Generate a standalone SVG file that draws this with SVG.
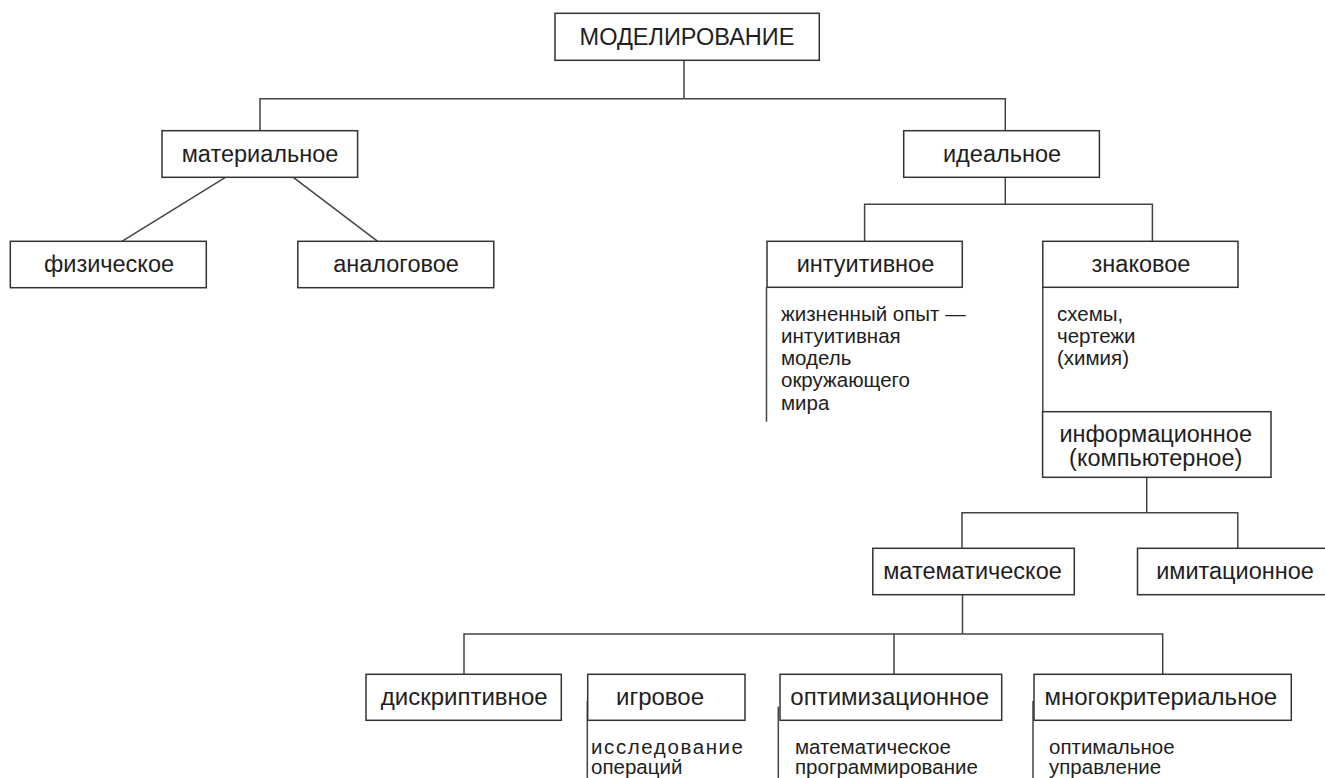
<svg xmlns="http://www.w3.org/2000/svg" width="1325" height="778" viewBox="0 0 1325 778">
<style>
.box{fill:#fff;stroke:#333;stroke-width:1.5}
.lbl{font-family:"Liberation Sans",Arial,sans-serif;font-size:23.5px;fill:#1e1e1e;text-anchor:middle}
.lbl2{font-family:"Liberation Sans",Arial,sans-serif;font-size:24px;fill:#1e1e1e;text-anchor:middle}
.desc{font-family:"Liberation Sans",Arial,sans-serif;font-size:20.5px;fill:#1e1e1e}
.con{fill:none;stroke:#444;stroke-width:1.5}
</style>
<rect width="1325" height="778" fill="#fff"/>
<g id="connectors" class="con">
<path d="M684,60.3V98.7M260,130.7V98.7H1005.3V130.7"/>
<path d="M225.4,177.3L121.9,241.3M293.3,177.3L377.7,241.3"/>
<path d="M1005.3,177.3V204.3M864.6,241.3V204.3H1152.4V241.3"/>
<path d="M766.5,287.3V421.7M1042.8,287.3V411.7"/>
<path d="M1146.7,477.3V512.7M962,548.3V512.7H1237.8V548.3"/>
<path d="M962.5,594.7V634M464,674.3V634H1162.7V674.3M894,634V674.3"/>
<path d="M587.3,701V778M778.3,706.7V778M1033,701V778"/>
</g>
<g id="n-root"><rect class="box" x="555" y="13.3" width="264.3" height="47"/><text class="lbl" x="687" y="45" font-size="23">МОДЕЛИРОВАНИЕ</text></g>
<g id="n-material"><rect class="box" x="162" y="130.7" width="195.6" height="46.6"/><text class="lbl" x="260" y="161.7">материальное</text></g>
<g id="n-ideal"><rect class="box" x="903.7" y="130.7" width="195.7" height="46.6"/><text class="lbl" x="1002" y="161.7">идеальное</text></g>
<g id="n-phys"><rect class="box" x="10.3" y="241.3" width="196" height="46.4"/><text class="lbl" x="109" y="271.7">физическое</text></g>
<g id="n-analog"><rect class="box" x="297.8" y="241.3" width="196" height="46.4"/><text class="lbl" x="396" y="271.7">аналоговое</text></g>
<g id="n-intuit"><rect class="box" x="767" y="241.3" width="195.3" height="46"/><text class="lbl" x="865.5" y="271.7">интуитивное</text>
<text class="desc" x="781"><tspan x="781" y="320.7">жизненный опыт —</tspan><tspan x="781" y="342.9">интуитивная</tspan><tspan x="781" y="365.1">модель</tspan><tspan x="781" y="387.3">окружающего</tspan><tspan x="781" y="409.5">мира</tspan></text></g>
<g id="n-znak"><rect class="box" x="1042.8" y="241.3" width="195.2" height="46"/><text class="lbl" x="1141" y="271.7">знаковое</text>
<text class="desc"><tspan x="1057" y="320.7">схемы,</tspan><tspan x="1057" y="342.9">чертежи</tspan><tspan x="1057" y="365.1">(химия)</tspan></text></g>
<g id="n-inform"><rect class="box" x="1042.6" y="411.7" width="228.4" height="65.6"/><text class="lbl"><tspan x="1155.7" y="441.7">информационное</tspan><tspan x="1155.7" y="465.7">(компьютерное)</tspan></text></g>
<g id="n-math"><rect class="box" x="872.8" y="548.3" width="201.5" height="46.4"/><text class="lbl" x="972.5" y="578.5">математическое</text></g>
<g id="n-imit"><rect class="box" x="1137.5" y="548.3" width="200" height="46.4"/><text class="lbl" x="1235" y="579">имитационное</text></g>
<g id="n-descr"><rect class="box" x="366" y="674.3" width="195.3" height="46"/><text class="lbl2" x="464.2" y="705">дискриптивное</text></g>
<g id="n-game"><rect class="box" x="587.7" y="674.3" width="157.3" height="46"/><text class="lbl2" x="660" y="705">игровое</text>
<text class="desc"><tspan x="591" y="754.3" textLength="152" lengthAdjust="spacing">исследование</tspan><tspan x="591" y="774.3">операций</tspan></text></g>
<g id="n-optim"><rect class="box" x="780" y="674.3" width="221.7" height="46"/><text class="lbl2" x="889.7" y="705">оптимизационное</text>
<text class="desc"><tspan x="795" y="754">математическое</tspan><tspan x="795" y="774">программирование</tspan></text></g>
<g id="n-multi"><rect class="box" x="1034" y="674.3" width="257.3" height="46"/><text class="lbl2" x="1160.8" y="705">многокритериальное</text>
<text class="desc"><tspan x="1049" y="753.5">оптимальное</tspan><tspan x="1049" y="773.7">управление</tspan></text></g>
</svg>
